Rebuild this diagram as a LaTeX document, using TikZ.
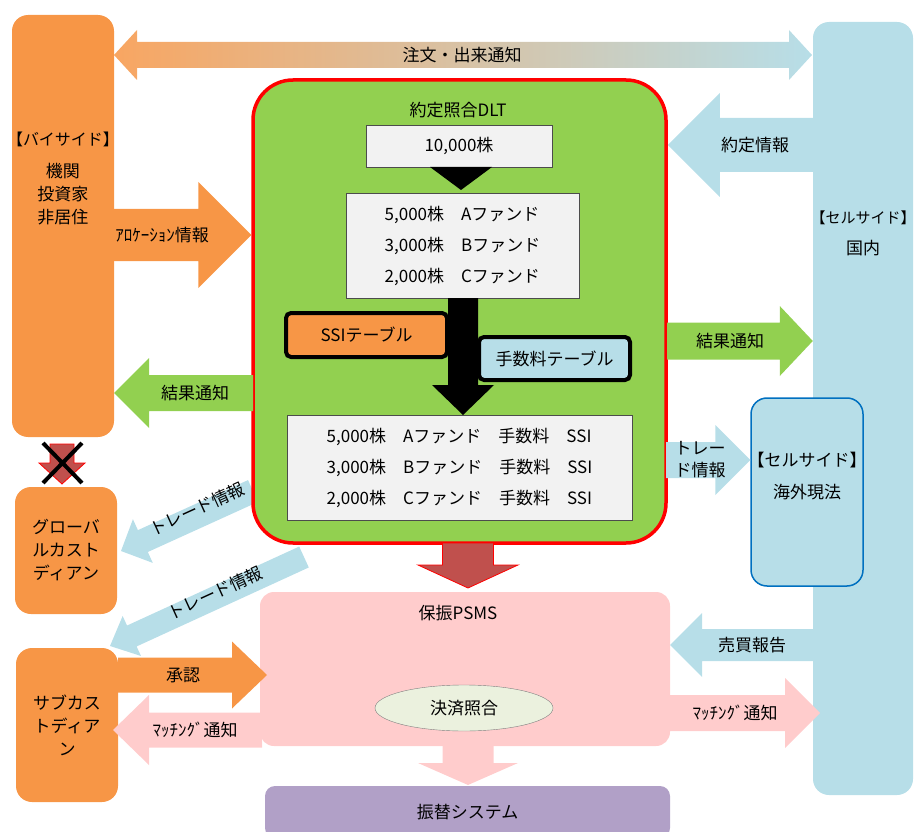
\documentclass[tikz,border=0pt]{standalone}
\usepackage{fontspec}
\setmainfont{Noto Sans CJK JP}
\newfontfamily\jphalt[RawFeature=+halt]{Noto Sans CJK JP}
\usetikzlibrary{calc, positioning, shapes.geometric}

\definecolor{xorange}{HTML}{F79646}
\definecolor{xblue}{HTML}{B7DEE8}
\definecolor{xgreen}{HTML}{92D050}
\definecolor{xpink}{HTML}{FFCCCC}
\definecolor{xpurple}{HTML}{B1A0C7}
\definecolor{xred}{HTML}{C0504D}
\definecolor{xgray}{HTML}{F2F2F2}
\definecolor{xcream}{HTML}{EBF1DE}
\definecolor{xedge}{HTML}{0070C0}

\tikzset{
  txt/.style={inner sep=0pt, align=center},
  party/.style={fill=xorange, rounded corners=16pt, inner sep=0pt, align=center},
  sellside/.style={fill=xblue, rounded corners=16pt, inner sep=0pt},
  tbl/.style={draw=black!70, fill=xgray, inner sep=0pt, align=left, font=\fontsize{17}{31}\selectfont},
  master/.style={draw=black, line width=4pt, rounded corners=5pt, inner sep=0pt},
  orangearr/.style={fill=xorange},
  bluearr/.style={fill=xblue},
  greenarr/.style={fill=xgreen},
  pinkarr/.style={fill=xpink},
  downarr/.style={fill=xred, draw=red, line width=0.8pt},
}

% block arrow: style, from, to, shaft half width, head half width, head length
\newcommand{\blockarrow}[6]{%
  \path[#1] let \p1=(#2), \p2=(#3),
      \n1={atan2(\y2-\y1,\x2-\x1)}, \n2={veclen(\x2-\x1,\y2-\y1)} in
    ($(\p1)+({\n1+90}:#4)$) -- ++(\n1:{\n2-#6}) -- ++({\n1+90}:{#5-#4}) -- (\p2)
    -- ($(\p1)+(\n1:{\n2-#6})+({\n1-90}:#5)$) -- ++({\n1+90}:{#5-#4})
    -- ($(\p1)+({\n1-90}:#4)$) -- cycle;}

\begin{document}
\begin{tikzpicture}[x=1pt, y=-1pt, every node/.style={font=\fontsize{17}{23}\selectfont}]
\useasboundingbox (0,0) rectangle (914,832);

% order and execution notice
\coordinate (ord-l) at (114,55);
\coordinate (ord-r) at (812,55);
\shade[left color=xorange!85!white, right color=xblue]
  (ord-l) -- ++(23,-25) -- ++(0,12) -- ($(ord-r)+(-23,-13)$) -- ++(0,-12) -- (ord-r)
  -- ++(-23,25) -- ++(0,-12) -- ($(ord-l)+(23,13)$) -- ++(0,12) -- cycle;
\node[txt] (ord-lbl) at (462,55) {注文・出来通知};

% parties
\node[party, minimum width=102pt, minimum height=422pt] (buy) at (63,226) {};
\node[txt] (buy-txt) at (63,179) {{\jphalt\fontsize{16}{23}\selectfont【バイサイド】}\\[9pt]機関\\投資家\\非居住};
\node[sellside, minimum width=100pt, minimum height=773pt] (selldom) at (863,408.5) {};
\node[txt] (selldom-txt) at (863,233.5) {{\jphalt\fontsize{15}{23}\selectfont【セルサイド】}\\[8pt]国内};
\node[party, minimum width=102pt, minimum height=127pt] (glob) at (66,550.5) {グローバ\\ルカスト\\ディアン};
\node[party, minimum width=102pt, minimum height=154pt] (sub) at (67,725) {サブカス\\トディア\\ン};

% trade info to custodians
\coordinate (trd1-s) at (253,491);
\coordinate (trd1-e) at (121,551);
\coordinate (trd2-s) at (304,557);
\coordinate (trd2-e) at (110,646);
\blockarrow{bluearr}{trd1-s}{trd1-e}{12pt}{24pt}{24pt}
\blockarrow{bluearr}{trd2-s}{trd2-e}{11.5pt}{22pt}{24pt}
\node[txt, rotate=24.5] (trd1-lbl) at (197,509) {トレード情報};
\node[txt, rotate=24.5] (trd2-lbl) at (215,593) {トレード情報};

% matching DLT
\node[draw=red, line width=3.5pt, fill=xgreen, rounded corners=40pt, minimum width=413pt, minimum height=463pt] (dlt) at (459.5,311.5) {};
\node[txt] (dlt-title) at (458,110) {約定照合DLT};
\node[tbl, minimum width=186pt, minimum height=42pt] (total) at (459,146) {10,000株};
\node[tbl, minimum width=233pt, minimum height=105pt] (split) at (462.5,245.5) {5,000株　Aファンド\\3,000株　Bファンド\\2,000株　Cファンド};
\node[tbl, minimum width=345pt, minimum height=105pt] (result) at (459.5,467.5) {5,000株　Aファンド　手数料　SSI\\3,000株　Bファンド　手数料　SSI\\2,000株　Cファンド　手数料　SSI};
\coordinate (tri-s) at (461,167);
\coordinate (tri-e) at (461,190);
\coordinate (big-s) at (463,298);
\coordinate (big-e) at (463,415);
\blockarrow{fill=black}{tri-s}{tri-e}{0.1pt}{31pt}{23pt}
\blockarrow{fill=black}{big-s}{big-e}{15pt}{31pt}{30pt}
\node[master, fill=xorange, minimum width=161pt, minimum height=44pt] (ssi) at (366.5,335) {SSIテーブル};
\node[master, fill=xblue, minimum width=151pt, minimum height=43pt] (fee) at (554.5,358.5) {手数料テーブル};

% arrows around DLT
\coordinate (alloc-s) at (103,235);
\coordinate (yak-s) at (813,145);
\coordinate (resr-s) at (667,341);
\coordinate (resl-s) at (253,393);
\coordinate (trdr-s) at (666,460);
\blockarrow{orangearr}{alloc-s}{dlt.west |- alloc-s}{26pt}{53pt}{53pt}
\blockarrow{bluearr}{yak-s}{dlt.east |- yak-s}{27pt}{52pt}{52pt}
\blockarrow{greenarr}{resr-s}{selldom.west |- resr-s}{18.5pt}{35pt}{33pt}
\blockarrow{greenarr}{resl-s}{buy.east |- resl-s}{18pt}{35pt}{35pt}
\node[txt] (alloc-lbl) at (162,235) {ｱﾛｹｰｼｮﾝ情報};
\node[txt] (yak-lbl) at (755,145) {約定情報};
\node[txt] (resr-lbl) at (730,341) {結果通知};
\node[txt] (resl-lbl) at (195,393) {結果通知};

% overseas sell side
\node[sellside, draw=xedge, line width=1.5pt, minimum width=112pt, minimum height=188pt] (over) at (807,492) {};
\node[txt] (over-txt) at (807,476) {\jphalt【セルサイド】\\[9pt]海外現法};
\blockarrow{bluearr}{trdr-s}{over.west |- trdr-s}{18pt}{35pt}{35pt}
\node[txt, font=\fontsize{17}{22}\selectfont] (trdr-lbl) at (700,460) {トレー\\ド情報};

% PSMS
\node[fill=xpink, rounded corners=14pt, minimum width=410pt, minimum height=154pt] (psms) at (465,669) {};
\node[txt] (psms-title) at (458,613) {保振PSMS};
\node[ellipse, draw=black!50, fill=xcream, minimum width=178pt, minimum height=46pt, inner sep=0pt] (match) at (464,708) {決済照合};
\begin{scope}
  \clip (0,0) rectangle (914,832);
  \node[fill=xpurple, rounded corners=10pt, minimum width=405pt, minimum height=52pt] (furi) at (467.5,812) {振替システム};
\end{scope}

\coordinate (stl-s) at (468,543);
\coordinate (stl-e) at (468,588);
\coordinate (fr-s) at (468,746);
\coordinate (fr-e) at (468,785);
\coordinate (bb-s) at (813,645);
\coordinate (mr-s) at (670,713);
\coordinate (mr-e) at (820,713);
\coordinate (sh-s) at (118,675);
\coordinate (sh-e) at (267,675);
\coordinate (ml-s) at (262,730);
\coordinate (ml-e) at (113,730);
\blockarrow{downarr}{stl-s}{stl-e}{25.5pt}{50pt}{23pt}
\blockarrow{pinkarr}{fr-s}{fr-e}{25.5pt}{50pt}{22pt}
\blockarrow{bluearr}{bb-s}{psms.east |- bb-s}{16pt}{32pt}{32pt}
\blockarrow{pinkarr}{mr-s}{mr-e}{18pt}{35pt}{35pt}
\blockarrow{orangearr}{sh-s}{sh-e}{17.5pt}{33.5pt}{35pt}
\blockarrow{pinkarr}{ml-s}{ml-e}{17.5pt}{35pt}{36pt}
\node[txt] (bb-lbl) at (752,645) {売買報告};
\node[txt] (mr-lbl) at (735,713) {ﾏｯﾁﾝｸﾞ通知};
\node[txt] (sh-lbl) at (183,675) {承認};
\node[txt] (ml-lbl) at (195,730) {ﾏｯﾁﾝｸﾞ通知};

% crossed out link
\coordinate (xa-s) at (62,444);
\coordinate (xa-e) at (62,484);
\blockarrow{downarr}{xa-s}{xa-e}{12pt}{23pt}{21pt}
\draw[line width=4pt] (43,443) -- (82,483) (82,443) -- (43,483);
\end{tikzpicture}
\end{document}
